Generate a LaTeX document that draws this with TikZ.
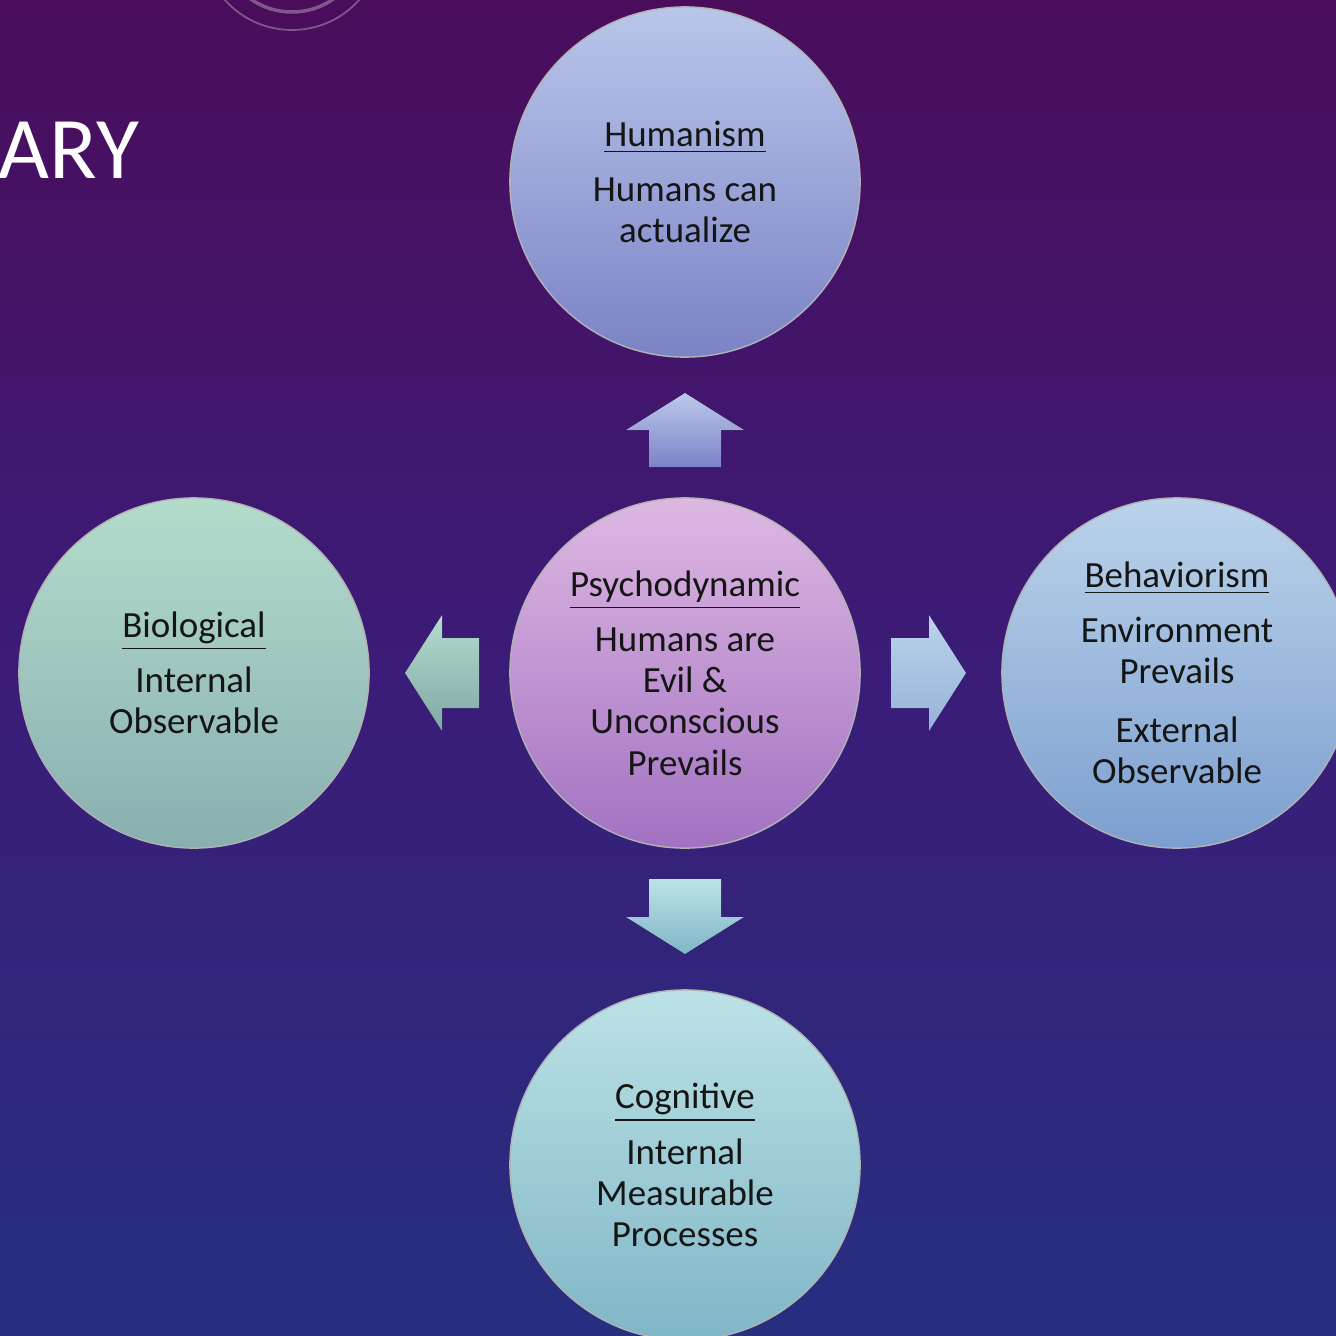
\documentclass[tikz,border=0pt]{standalone}
\usepackage{fontspec}
\setmainfont{Carlito}
\usepackage{tikz}
\definecolor{bgtop}{HTML}{4A0D5B}
\definecolor{bgmid}{HTML}{3B1C78}
\definecolor{bgbot}{HTML}{262F80}
\definecolor{humtop}{HTML}{B9C6EA}
\definecolor{humbot}{HTML}{7B83C6}
\definecolor{psytop}{HTML}{DDB8E2}
\definecolor{psybot}{HTML}{A272C2}
\definecolor{biotop}{HTML}{B4DCCC}
\definecolor{biobot}{HTML}{88AFB0}
\definecolor{behtop}{HTML}{BBD3EA}
\definecolor{behbot}{HTML}{7C9FD0}
\definecolor{cogtop}{HTML}{BCE2E6}
\definecolor{cogbot}{HTML}{7FB6C6}
\definecolor{textdark}{HTML}{151515}
\tikzset{school/.style={circle,minimum size=3.5cm,inner sep=0pt,align=center,
    text=textdark,draw=gray!60,line width=0.4pt,
    font=\fontsize{10.5}{11.7}\selectfont}}
\tikzset{blockarrow/.style={draw=none}}

\begin{document}
\begin{tikzpicture}[line cap=round,line join=round,x=0.01cm,y=-0.01cm]
    \useasboundingbox (0,0) rectangle (1336,1336);
    \clip (0,0) rectangle (1336,1336);
    % background
    \fill[top color=bgtop,bottom color=bgbot,middle color=bgmid] (0,0) rectangle (1336,1336);
    \draw[white,opacity=0.3,line width=0.5pt] (292,-60) circle (90);
    \draw[white,opacity=0.3,line width=1pt] (292,-60) circle (72);
    \node[anchor=base west,inner sep=0pt,text=white,font=\fontsize{25}{30}\selectfont] (title) at (-2,178) {ARY};
    % circles
    \node[school,top color=humtop,bottom color=humbot] (hum) at (685,182)
        {\underline{Humanism}\\[4pt]Humans can\\actualize};
    \node[school,top color=psytop,bottom color=psybot] (psy) at (685,673)
        {\underline{Psychodynamic}\\[4pt]Humans are\\Evil \&\\Unconscious\\Prevails};
    \node[school,top color=biotop,bottom color=biobot] (bio) at (194,673)
        {\underline{Biological}\\[4pt]Internal\\Observable};
    \node[school,top color=behtop,bottom color=behbot] (beh) at (1177,673)
        {\underline{Behaviorism}\\[4pt]Environment\\Prevails\\[5pt]External\\Observable};
    \node[school,top color=cogtop,bottom color=cogbot] (cog) at (685,1165)
        {\underline{Cognitive}\\[4pt]Internal\\Measurable\\Processes};
    % arrows
    \fill[blockarrow,top color=humtop!95!white,bottom color=humbot] (685,393) -- (744,430) -- (721,430) -- (721,467) -- (649,467) -- (649,430) -- (626,430) -- cycle;
    \fill[blockarrow,top color=biotop,bottom color=biobot!95!black] (405,673) -- (442,615) -- (442,638) -- (479,638) -- (479,708) -- (442,708) -- (442,731) -- cycle;
    \fill[blockarrow,top color=behtop,bottom color=behbot!80!white] (966,673) -- (929,615) -- (929,638) -- (891,638) -- (891,708) -- (929,708) -- (929,731) -- cycle;
    \fill[blockarrow,top color=cogtop,bottom color=cogbot] (685,954) -- (744,917) -- (721,917) -- (721,879) -- (649,879) -- (649,917) -- (626,917) -- cycle;
\end{tikzpicture}
\end{document}
